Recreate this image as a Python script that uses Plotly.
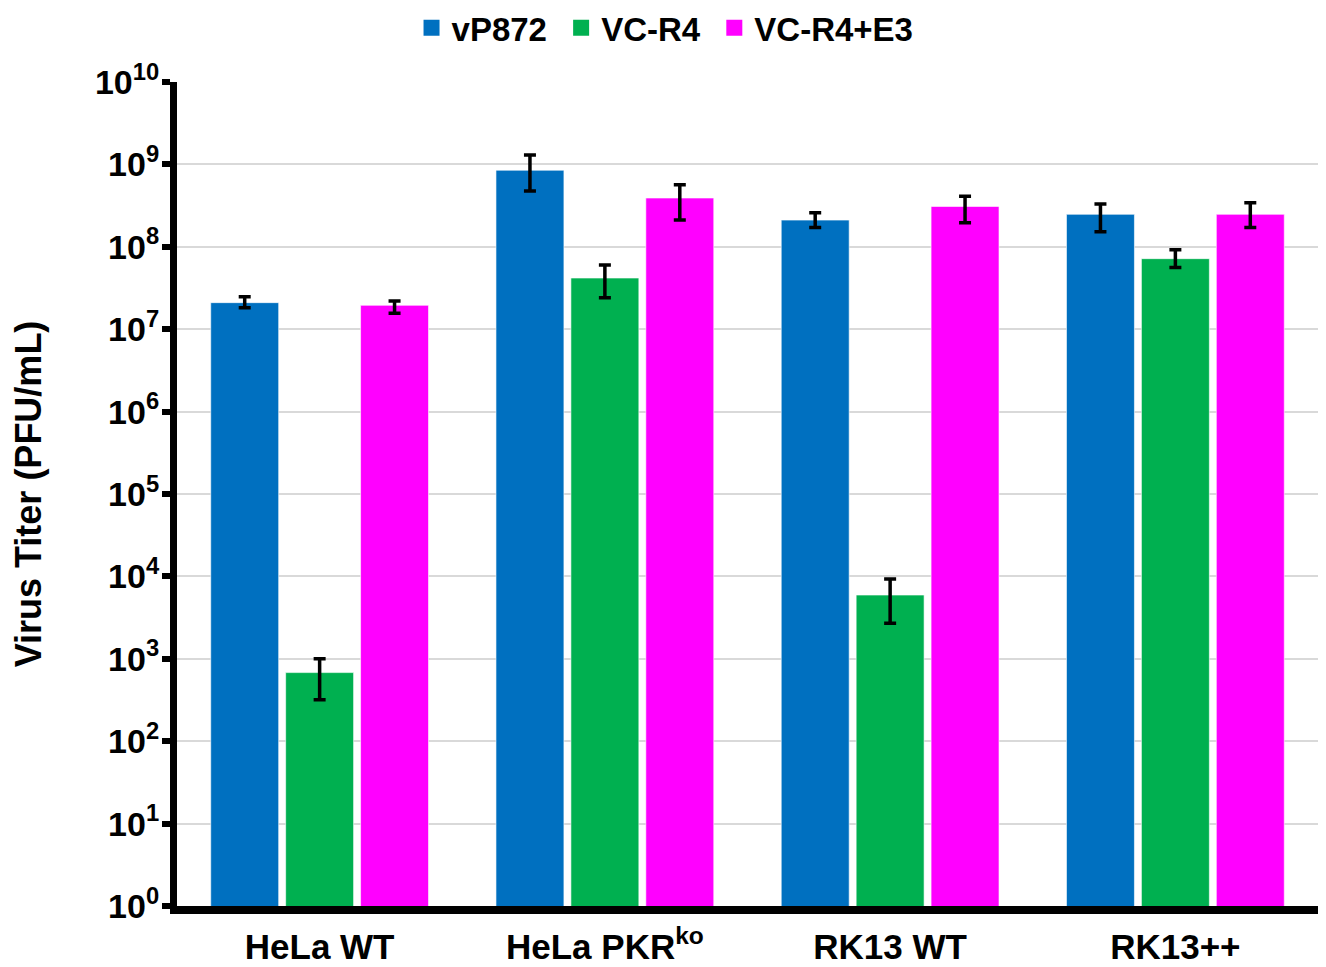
import plotly.graph_objects as go

categories = ["HeLa WT", "HeLa PKR<sup>ko</sup>", "RK13 WT", "RK13++"]
series_names = ["vP872", "VC-R4", "VC-R4+E3"]
colors = ["#0070C0", "#00B050", "#FF00FF"]

vP872 = [2.10e7, 8.5e8, 2.11e8, 2.48e8]
vP872_hi = [2.48e7, 1.30e9, 2.59e8, 3.30e8]
vP872_lo = [1.82e7, 4.75e8, 1.71e8, 1.52e8]

VC_R4 = [6.8e2, 4.18e7, 5.94e3, 7.18e7]
VC_R4_hi = [1.0e3, 6.0e7, 9.27e3, 9.2e7]
VC_R4_lo = [3.19e2, 2.41e7, 2.70e3, 5.6e7]

VC_R4_E3 = [1.95e7, 3.91e8, 3.09e8, 2.48e8]
VC_R4_E3_hi = [2.2e7, 5.67e8, 4.1e8, 3.43e8]
VC_R4_E3_lo = [1.56e7, 2.11e8, 1.96e8, 1.71e8]

tick_exponents = list(range(0, 11))

FONT = "Liberation Sans, Arial, sans-serif"

fig = go.Figure()
for i, (name, color, vals, hi, lo) in enumerate([
    (series_names[0], colors[0], vP872, vP872_hi, vP872_lo),
    (series_names[1], colors[1], VC_R4, VC_R4_hi, VC_R4_lo),
    (series_names[2], colors[2], VC_R4_E3, VC_R4_E3_hi, VC_R4_E3_lo),
]):
    fig.add_trace(go.Bar(
        x=categories, y=vals, name=name, showlegend=False,
        marker=dict(color=color, line=dict(color="rgba(255,255,255,0.6)", width=1)),
        error_y=dict(type="data", symmetric=False,
                     array=[h - v for h, v in zip(hi, vals)],
                     arrayminus=[v - l for v, l in zip(vals, lo)],
                     color="black", thickness=3.5, width=6),
    ))
    # legend entry with a larger square swatch
    label = name + ("\u00a0" if i < 2 else "")
    fig.add_trace(go.Scatter(
        x=[None], y=[None], mode="markers", name=label,
        marker=dict(symbol="square", size=16, color=color),
    ))

fig.update_layout(
    width=1326, height=967,
    margin=dict(l=169, r=16, t=74, b=69),
    paper_bgcolor="white", plot_bgcolor="white",
    barmode="group", bargap=0.212, bargroupgap=0.093,
    font=dict(family=FONT, color="black", weight="bold"),
    legend=dict(orientation="h", xref="container", yref="container",
                x=0.4955, xanchor="center", y=0.9795, yanchor="middle",
                font=dict(size=33, family=FONT, weight="bold"),
                itemwidth=30, tracegroupgap=0),
    xaxis=dict(
        showline=True, linecolor="black", linewidth=8,
        ticks="", tickfont=dict(size=35, family=FONT, weight="bold"),
        ticklabelstandoff=3, automargin=False,
    ),
    yaxis=dict(
        type="log", range=[0, 10],
        tickvals=[10 ** e for e in tick_exponents],
        ticktext=[f"10<sup>{e}</sup>" for e in tick_exponents],
        tickfont=dict(size=34, family=FONT, weight="bold"),
        showline=True, linecolor="black", linewidth=7,
        ticks="outside", ticklen=8, tickwidth=6, tickcolor="black",
        ticklabelstandoff=-4,
        showgrid=True, gridcolor="#d9d9d9", gridwidth=2,
        zeroline=False,
        title=dict(text="Virus Titer (PFU/mL)", standoff=60,
                   font=dict(size=36, family=FONT, weight="bold")),
        automargin=False,
    ),
)

fig.write_html("out.html")
